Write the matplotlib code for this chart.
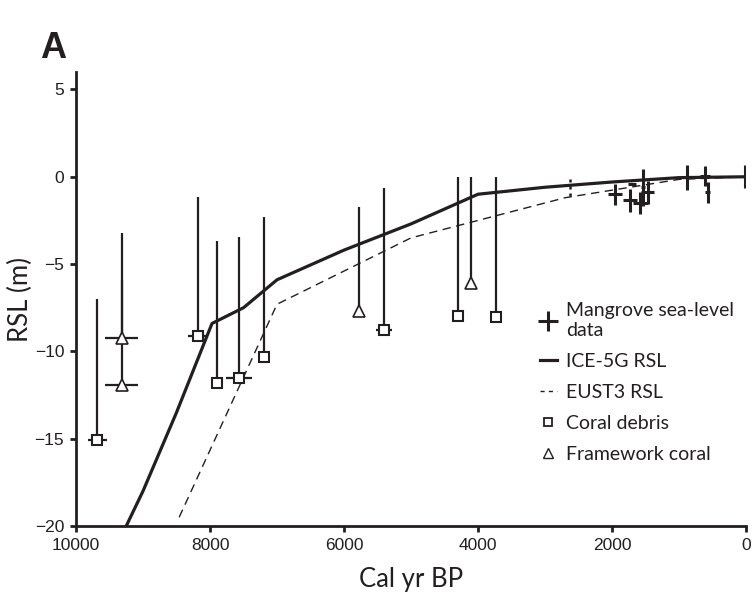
import matplotlib
matplotlib.use("Agg")
import matplotlib.pyplot as plt
from matplotlib.lines import Line2D
import numpy as np

# --- Model RSL curves (cal yr BP, metres) ---
ice5g_age = [9300, 9000, 8500, 7970, 7500, 7000, 6000, 5000, 4000, 3000, 2000, 1000, 0]
ice5g_rsl = [-20.4, -18.0, -13.5, -8.4, -7.5, -5.9, -4.2, -2.7, -1.0, -0.6, -0.3, -0.05, 0.0]

eust3_age = [8460, 7000, 5000, 2700, 1000, 0]
eust3_rsl = [-19.5, -7.3, -3.5, -1.2, -0.15, 0.0]

# --- Coral debris: age, RSL, upper limit of indicative range, age error ---
debris_age = [9680, 8185, 7900, 7565, 7190, 5400, 4295, 3735]
debris_rsl = [-15.1, -9.1, -11.8, -11.5, -10.3, -8.75, -8.0, -8.05]
debris_top = [-7.0, -1.15, -3.7, -3.45, -2.3, -0.65, 0.0, 0.0]
debris_xerr = [140, 140, 0, 195, 90, 120, 0, 90]

# --- Framework coral ---
frame_age = [9320, 9320, 5770, 4105]
frame_rsl = [-9.25, -11.95, -7.7, -6.1]
frame_top = [-3.2, -5.9, -1.75, 0.0]
frame_xerr = [250, 250, 0, 0]

# --- Mangrove sea-level data: age, RSL, age error, RSL error ---
mang_age = [1955, 1730, 1580, 1470, 1540, 1700, 886, 612, 573, 15]
mang_rsl = [-1.0, -1.35, -1.5, -0.9, -0.6, -0.4, -0.05, 0.05, -0.9, 0.0]
mang_xerr = [100, 100, 110, 90, 30, 60, 0, 70, 40, 0]
mang_yerr = [0.6, 0.65, 0.65, 0.65, 1.05, 0.0, 0.7, 0.55, 0.6, 0.65]

# mangrove point with uncertain (dotted) range
mang_dot_age = [2630]
mang_dot_rsl = [-0.48]
mang_dot_yerr = [0.6]

ink = "#231f20"

fig = plt.figure(figsize=(7.56, 5.93), dpi=100)
ax = fig.add_axes([76 / 756, 67 / 593, 670 / 756, 454 / 593])

# model curves
ax.plot(ice5g_age, ice5g_rsl, color=ink, lw=2.3, solid_capstyle="butt", zorder=3)
ax.plot(eust3_age, eust3_rsl, color=ink, lw=1.0, dashes=(6, 4), zorder=3)

# coral debris: one-sided vertical bars up to the indicative limit
d_age = np.array(debris_age)
d_rsl = np.array(debris_rsl)
d_up = np.array(debris_top) - d_rsl
ax.errorbar(d_age, d_rsl, yerr=[np.zeros_like(d_up), d_up], xerr=debris_xerr,
            fmt="none", ecolor=ink, elinewidth=1.6, capsize=0, zorder=2)
ax.plot(d_age, d_rsl, linestyle="none", marker="s", markersize=7,
        markerfacecolor="white", markeredgecolor=ink, markeredgewidth=1.5, zorder=4)

f_age = np.array(frame_age)
f_rsl = np.array(frame_rsl)
f_up = np.array(frame_top) - f_rsl
ax.errorbar(f_age, f_rsl, yerr=[np.zeros_like(f_up), f_up], xerr=frame_xerr,
            fmt="none", ecolor=ink, elinewidth=1.6, capsize=0, zorder=2)
ax.plot(f_age, f_rsl, linestyle="none", marker="^", markersize=8,
        markerfacecolor="white", markeredgecolor=ink, markeredgewidth=1.2, zorder=4)

# mangrove crosses
ax.errorbar(mang_age, mang_rsl, xerr=mang_xerr, yerr=mang_yerr, fmt="none",
            ecolor=ink, elinewidth=2.2, capsize=0, zorder=5)
eb = ax.errorbar(mang_dot_age, mang_dot_rsl, yerr=mang_dot_yerr, fmt="none",
                 ecolor=ink, elinewidth=1.8, capsize=0, zorder=5)
for coll in eb[2]:
    coll.set_linestyle((0, (1.2, 1.6)))

ax.set_xlim(10000, 0)
ax.set_ylim(-20, 6)
ax.set_xticks([10000, 8000, 6000, 4000, 2000, 0])
ax.set_yticks([-20, -15, -10, -5, 0, 5])

for s in ["top", "right"]:
    ax.spines[s].set_visible(False)
for s in ["left", "bottom"]:
    ax.spines[s].set_linewidth(2.0)
    ax.spines[s].set_color(ink)
ax.tick_params(direction="out", length=4.5, width=2.0, color=ink,
               labelsize=12.5, pad=4)
for lab in ax.get_xticklabels() + ax.get_yticklabels():
    lab.set_family("Liberation Sans")
    lab.set_color(ink)

label_font = dict(family="Lato", size=18.5, color=ink)
ax.set_xlabel("Cal yr BP", labelpad=10, **label_font)
ax.set_ylabel("RSL (m)", labelpad=1, **label_font)

handles = [
    Line2D([], [], linestyle="none", marker="+", markersize=15, markeredgewidth=2.2, color=ink),
    Line2D([], [], color=ink, lw=2.3),
    Line2D([], [], color=ink, lw=1.0, dashes=(3, 3)),
    Line2D([], [], linestyle="none", marker="s", markersize=6, markerfacecolor="white",
           markeredgecolor=ink, markeredgewidth=1.3),
    Line2D([], [], linestyle="none", marker="^", markersize=7, markerfacecolor="white",
           markeredgecolor=ink, markeredgewidth=1.0),
]
labels = ["Mangrove sea-level\ndata", "ICE-5G RSL", "EUST3 RSL", "Coral debris", "Framework coral"]
ax.legend(handles, labels, loc="upper left", bbox_to_anchor=(522 / 756, 1 - 285 / 593),
          bbox_transform=fig.transFigure, frameon=False, handlelength=0.9,
          handletextpad=0.45, labelspacing=0.72,
          prop=dict(family="Lato", size=14))
for t in ax.get_legend().get_texts():
    t.set_color(ink)

fig.text(40 / 756, 1 - 48 / 593, "A", family="Liberation Sans", weight="bold",
         size=26, color=ink, va="center", ha="left")

fig.savefig("out.png", dpi=100)
